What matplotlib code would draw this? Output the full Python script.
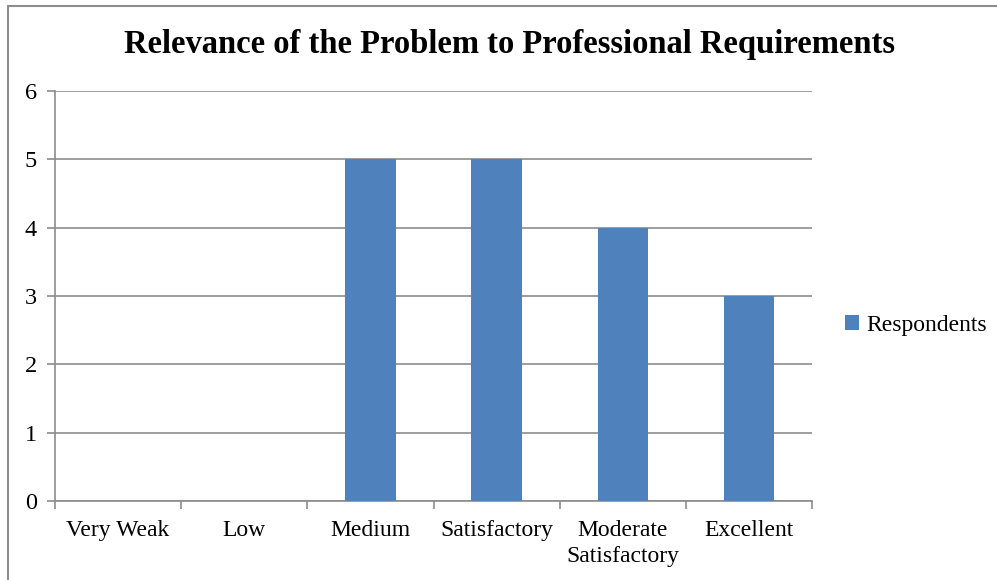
import matplotlib
matplotlib.use("Agg")
import matplotlib.pyplot as plt
from matplotlib.patches import Rectangle

categories = ["Very Weak", "Low", "Medium", "Satisfactory", "Moderate\nSatisfactory", "Excellent"]
respondents = [0, 0, 5, 5, 4, 3]
yticks = [0, 1, 2, 3, 4, 5, 6]

plt.rcParams['font.family'] = ['Liberation Serif', 'DejaVu Serif']

W, H = 997, 580
fig = plt.figure(figsize=(W/100, H/100), dpi=100)
ax = fig.add_axes([55/W, 1-501/H, (812-55)/W, (501-91)/H])

x = list(range(len(categories)))
ax.bar(x, respondents, width=0.40, color="#4F81BD", label="Respondents", zorder=3)

ax.set_xlim(-0.5, len(categories)-0.5)
ax.set_ylim(0, 6)
ax.set_yticks(yticks)
ax.set_yticklabels([str(v) for v in yticks], fontsize=17.5)
ax.set_xticks(x)
ax.set_xticklabels(categories, fontsize=17, linespacing=1.3)
ax.tick_params(axis='x', length=0, pad=14)
ax.set_xticks([i - 0.5 for i in range(len(categories)+1)], minor=True)
ax.tick_params(axis='x', which='minor', length=6, color='#8c8c8c', width=1.2)
ax.tick_params(axis='y', length=6, color='#8c8c8c', width=1.2, pad=7)

ax.grid(axis='y', color='#8c8c8c', linewidth=1.2, zorder=1)
for s in ['top', 'right']:
    ax.spines[s].set_visible(False)
for s in ['left', 'bottom']:
    ax.spines[s].set_color('#8c8c8c')
    ax.spines[s].set_linewidth(1.2)

fig.text(509/W, 1-45/H, "Relevance of the Problem to Professional Requirements",
         ha='center', va='center', fontsize=23.5, fontweight='bold')

leg = fig.legend(loc='center left', bbox_to_anchor=(845/W, 1-325/H), frameon=False,
                 fontsize=17, handlelength=0.6, handleheight=0.6, handletextpad=0.3,
                 borderaxespad=0, borderpad=0)

fig.patches.append(Rectangle((8/W, -0.1), 1.2, 1 - 6/H + 0.1, transform=fig.transFigure,
                             fill=False, edgecolor='#8c8c8c', linewidth=1.5))

fig.savefig("out.png", dpi=100)
